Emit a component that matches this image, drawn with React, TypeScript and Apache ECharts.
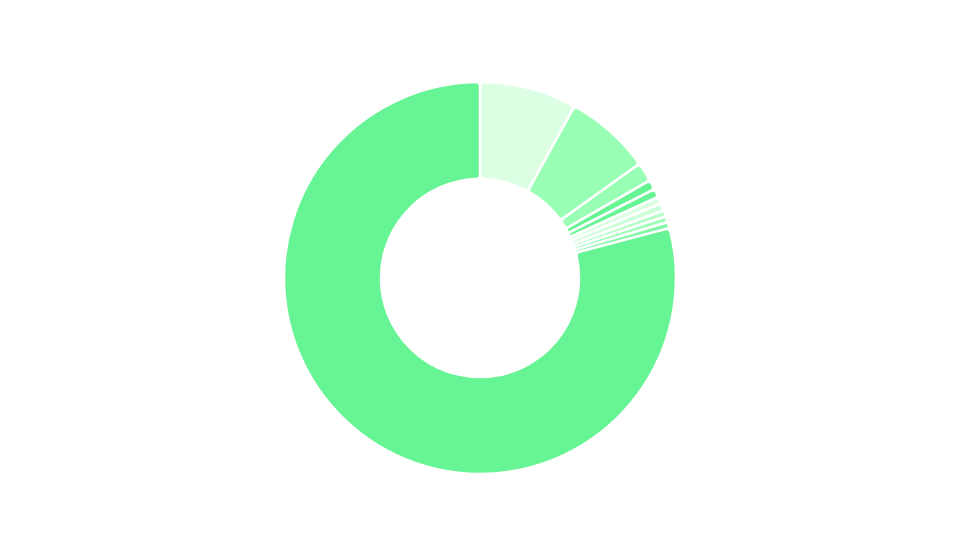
import React, { useEffect, useRef } from 'react';
import * as echarts from 'echarts';

const sliceNames = ['A', 'B', 'C', 'D', 'E', 'F', 'G', 'H', 'I', 'J', 'K'];
const sliceValues = [80, 71, 16, 8, 7, 6, 6, 5, 5, 5, 791];
const sliceColors = [
  '#dcffe4',
  '#99ffb5',
  '#99ffb5',
  '#66f495',
  '#66f495',
  '#dcffe4',
  '#cfffda',
  '#b3ffc6',
  '#9dffb8',
  '#80f8a6',
  '#67f494',
];

const App: React.FC = () => {
  const chartRef = useRef<HTMLDivElement>(null);

  useEffect(() => {
    document.body.style.margin = '0';
    if (!chartRef.current) return;
    const chart = echarts.init(chartRef.current, undefined, { renderer: 'svg' });
    chart.setOption({
      animation: false,
      series: [
        {
          type: 'pie',
          center: [480, 278],
          radius: [99, 196],
          startAngle: 90,
          clockwise: true,
          label: { show: false },
          labelLine: { show: false },
          itemStyle: {
            borderColor: '#ffffff',
            borderWidth: 2.5,
            borderRadius: 4,
          },
          data: sliceNames.map((name, i) => ({
            name,
            value: sliceValues[i],
            itemStyle: { color: sliceColors[i] },
          })),
        },
      ],
    });
    return () => {
      chart.dispose();
    };
  }, []);

  return <div ref={chartRef} style={{ width: '960px', height: '540px' }} />;
};

export default App;
